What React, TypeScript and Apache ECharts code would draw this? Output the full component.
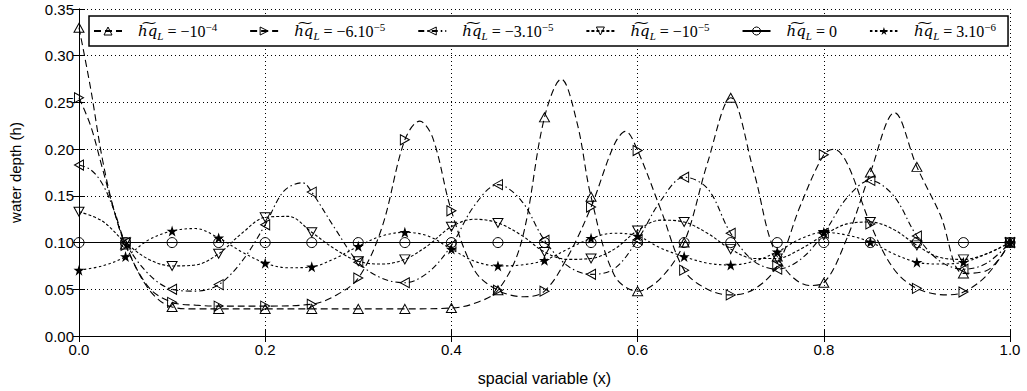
import React, { useEffect, useRef } from 'react';
import * as echarts from 'echarts';

const X_TICKS = { min: 0, max: 1, interval: 0.2 };
const Y_TICKS = { min: 0, max: 0.35, interval: 0.05 };
const X_NAME = 'spacial variable (x)';
const Y_NAME = 'water depth (h)';

const seriesNames = ['hqL=-1e-4', 'hqL=-6e-5', 'hqL=-3e-5', 'hqL=-1e-5', 'hqL=0', 'hqL=3e-6'];
const legendValues = ['−10', '−6.10', '−3.10', '−10', '0', '3.10'];
const legendExponents = ['−4', '−5', '−5', '−5', '', '−6'];

// curve samples: [x, h]
const curveA: [number, number][] = [
  [0, 0.330], [0.0125, 0.265], [0.025, 0.19], [0.0375, 0.135], [0.05, 0.098], [0.075, 0.05],
  [0.1, 0.031], [0.125, 0.029], [0.15, 0.029], [0.2, 0.029], [0.25, 0.029], [0.3, 0.029],
  [0.35, 0.029], [0.4, 0.030], [0.425, 0.035], [0.45, 0.049], [0.475, 0.10], [0.5, 0.234],
  [0.518, 0.275], [0.535, 0.228], [0.55, 0.149], [0.575, 0.065], [0.6, 0.048], [0.625, 0.062],
  [0.65, 0.10], [0.675, 0.185], [0.7, 0.255], [0.725, 0.175], [0.75, 0.085], [0.785, 0.054],
  [0.8, 0.057], [0.825, 0.105], [0.85, 0.175], [0.876, 0.239], [0.9, 0.181], [0.925, 0.13],
  [0.95, 0.067], [0.975, 0.07], [1, 0.10],
];
const curveB: [number, number][] = [
  [0, 0.255], [0.0125, 0.225], [0.025, 0.18], [0.0375, 0.135], [0.05, 0.097], [0.075, 0.052],
  [0.1, 0.036], [0.125, 0.033], [0.15, 0.032], [0.2, 0.032], [0.25, 0.034], [0.275, 0.043],
  [0.3, 0.062], [0.325, 0.115], [0.35, 0.21], [0.366, 0.23], [0.38, 0.212], [0.4, 0.134],
  [0.425, 0.07], [0.45, 0.049], [0.478, 0.042], [0.5, 0.048], [0.525, 0.085], [0.55, 0.138],
  [0.575, 0.205], [0.587, 0.219], [0.6, 0.1985], [0.625, 0.135], [0.65, 0.0705], [0.675, 0.05],
  [0.7, 0.044], [0.725, 0.05], [0.75, 0.075], [0.775, 0.14], [0.8, 0.194], [0.811, 0.2],
  [0.825, 0.185], [0.85, 0.12], [0.875, 0.072], [0.9, 0.051], [0.932, 0.044], [0.95, 0.047],
  [0.975, 0.065], [1, 0.10],
];
const curveC: [number, number][] = [
  [0, 0.183], [0.0125, 0.178], [0.025, 0.163], [0.0375, 0.135], [0.05, 0.10], [0.075, 0.066],
  [0.1, 0.05], [0.125, 0.048], [0.15, 0.055], [0.175, 0.08], [0.2, 0.119], [0.22, 0.155],
  [0.24, 0.164], [0.25, 0.154], [0.275, 0.115], [0.3, 0.079], [0.325, 0.062], [0.35, 0.057],
  [0.375, 0.068], [0.4, 0.097], [0.425, 0.14], [0.45, 0.162], [0.475, 0.145], [0.5, 0.1025],
  [0.525, 0.075], [0.55, 0.066], [0.575, 0.072], [0.6, 0.103], [0.625, 0.145], [0.65, 0.17],
  [0.675, 0.158], [0.7, 0.11], [0.725, 0.08], [0.75, 0.0715], [0.775, 0.082], [0.8, 0.11],
  [0.825, 0.148], [0.85, 0.1665], [0.875, 0.15], [0.9, 0.107], [0.925, 0.08], [0.95, 0.0715],
  [0.975, 0.078], [1, 0.10],
];
const curveD: [number, number][] = [
  [0, 0.133], [0.025, 0.123], [0.05, 0.10], [0.075, 0.082], [0.1, 0.075], [0.125, 0.076],
  [0.15, 0.088], [0.175, 0.11], [0.2, 0.127], [0.225, 0.128], [0.25, 0.111], [0.275, 0.093],
  [0.3, 0.08], [0.325, 0.077], [0.35, 0.082], [0.375, 0.097], [0.4, 0.117], [0.425, 0.125],
  [0.45, 0.121], [0.475, 0.108], [0.5, 0.09], [0.525, 0.082], [0.55, 0.083], [0.575, 0.093],
  [0.6, 0.113], [0.625, 0.124], [0.65, 0.122], [0.675, 0.11], [0.7, 0.093], [0.725, 0.083],
  [0.75, 0.083], [0.775, 0.093], [0.8, 0.108], [0.825, 0.12], [0.85, 0.122], [0.875, 0.114],
  [0.9, 0.097], [0.925, 0.084], [0.95, 0.082], [0.975, 0.088], [1, 0.10],
];
const curveE: [number, number][] = [
  [0, 0.1], [0.05, 0.1], [0.1, 0.1], [0.15, 0.1], [0.2, 0.1], [0.25, 0.1], [0.3, 0.1],
  [0.35, 0.1], [0.4, 0.1], [0.45, 0.1], [0.5, 0.1], [0.55, 0.1], [0.6, 0.1], [0.65, 0.1],
  [0.7, 0.1], [0.75, 0.1], [0.8, 0.1], [0.85, 0.1], [0.9, 0.1], [0.95, 0.1], [1, 0.1],
];
const curveF: [number, number][] = [
  [0, 0.0705], [0.025, 0.075], [0.05, 0.085], [0.075, 0.103], [0.1, 0.1124], [0.125, 0.115],
  [0.15, 0.105], [0.175, 0.09], [0.2, 0.078], [0.225, 0.073], [0.25, 0.074], [0.275, 0.083],
  [0.3, 0.096], [0.325, 0.107], [0.35, 0.111], [0.375, 0.107], [0.4, 0.093], [0.425, 0.08],
  [0.45, 0.075], [0.475, 0.076], [0.5, 0.081], [0.525, 0.093], [0.55, 0.1045], [0.575, 0.11],
  [0.6, 0.107], [0.625, 0.094], [0.65, 0.085], [0.675, 0.078], [0.7, 0.076], [0.725, 0.08],
  [0.75, 0.09], [0.775, 0.104], [0.8, 0.111], [0.825, 0.108], [0.85, 0.1006], [0.875, 0.088],
  [0.9, 0.079], [0.925, 0.077], [0.95, 0.079], [0.975, 0.088], [1, 0.10],
];

const curves = [curveA, curveB, curveC, curveD, curveE, curveF];

const SYM_UP = 'path://M5,0 L10,9 L0,9 Z';
const SYM_RIGHT = 'path://M0,0 L9,5 L0,10 Z';
const SYM_LEFT = 'path://M9,0 L0,5 L9,10 Z';
const SYM_DOWN = 'path://M0,0 L10,0 L5,9 Z';
const SYM_STAR =
  'path://M50,0 L61.8,36.2 L100,36.2 L69.1,58.6 L80.9,95.1 L50,72.7 L19.1,95.1 L30.9,58.6 L0,36.2 L38.2,36.2 Z';

const styles = [
  { symbol: SYM_UP, size: [10, 9], dash: [7, 4], fill: false },
  { symbol: SYM_RIGHT, size: [9, 10], dash: [7, 4], fill: false },
  { symbol: SYM_LEFT, size: [9, 10], dash: [6, 3, 1.5, 3], fill: false },
  { symbol: SYM_DOWN, size: [10, 9], dash: [3, 2], fill: false },
  { symbol: 'circle', size: 10, dash: 'solid', fill: false },
  { symbol: SYM_STAR, size: 11, dash: [2.5, 2.5], fill: true },
];

function isMarker(x: number) {
  const k = x * 20;
  return Math.abs(k - Math.round(k)) < 1e-6;
}

function markerStyle(fill: boolean) {
  return {
    color: fill ? '#000' : 'rgba(255,255,255,0)',
    borderColor: '#000',
    borderWidth: fill ? 0 : 1,
  };
}

export default function App() {
  const ref = useRef<HTMLDivElement>(null);
  useEffect(() => {
    document.body.style.margin = '0';
    if (!ref.current) return;
    const chart = echarts.init(ref.current, undefined, { renderer: 'svg' });
    const axisFont = { fontFamily: 'Liberation Sans', fontSize: 15, color: '#000' };
    const serif = 'Liberation Serif';
    const option: any = {
      animation: false,
      grid: { left: 73, right: 17, top: 9, bottom: 54 },
      legend: {
        left: 89,
        top: 16,
        padding: [5, 12, 5, 4],
        itemGap: 32,
        itemWidth: 28,
        itemHeight: 10,
        backgroundColor: '#fff',
        borderColor: '#000',
        borderWidth: 1.5,
        data: seriesNames.map((name, i) => ({
          name,
          itemStyle: markerStyle(styles[i].fill),
        })),
        formatter: (name: string) => {
          const i = seriesNames.indexOf(name);
          const exp = legendExponents[i] ? `{p|${legendExponents[i]}}` : '';
          return `{v|h\u0360q}{s|L}{n| = ${legendValues[i]}}${exp}`;
        },
        textStyle: {
          color: '#000',
          rich: {
            v: { fontFamily: 'DejaVu Serif', fontStyle: 'italic', fontSize: 15, lineHeight: 20, padding: [0, 0, 0, 11], color: '#000' },
            s: { fontFamily: serif, fontStyle: 'italic', fontSize: 11, lineHeight: 18, verticalAlign: 'bottom', color: '#000' },
            n: { fontFamily: serif, fontSize: 16, lineHeight: 18, color: '#000' },
            p: { fontFamily: serif, fontSize: 11, lineHeight: 18, verticalAlign: 'top', color: '#000' },
          },
        },
      },
      xAxis: [
        {
          type: 'value',
          ...X_TICKS,
          position: 'bottom',
          name: X_NAME,
          nameLocation: 'middle',
          nameGap: 34,
          nameTextStyle: { ...axisFont, fontSize: 16 },
          axisLine: { show: true, lineStyle: { color: '#000', width: 1 } },
          axisTick: { show: true, inside: true, length: 6, lineStyle: { color: '#000' } },
          axisLabel: { ...axisFont, margin: 6, formatter: (v: number) => v.toFixed(1) },
          splitLine: { show: true, lineStyle: { color: '#000', type: [1, 3], width: 1 } },
        },
        {
          type: 'value',
          ...X_TICKS,
          position: 'top',
          axisLine: { show: true, lineStyle: { color: '#000', width: 1 } },
          axisTick: { show: true, inside: true, length: 6, lineStyle: { color: '#000' } },
          axisLabel: { show: false },
          splitLine: { show: false },
        },
      ],
      yAxis: [
        {
          type: 'value',
          ...Y_TICKS,
          position: 'left',
          name: Y_NAME,
          nameLocation: 'middle',
          nameGap: 56,
          nameTextStyle: { ...axisFont, fontSize: 15 },
          axisLine: { show: true, lineStyle: { color: '#000', width: 1 } },
          axisTick: { show: true, inside: true, length: 6, lineStyle: { color: '#000' } },
          axisLabel: { ...axisFont, margin: 5, formatter: (v: number) => v.toFixed(2) },
          splitLine: { show: true, lineStyle: { color: '#000', type: [1, 3], width: 1 } },
        },
        {
          type: 'value',
          ...Y_TICKS,
          position: 'right',
          axisLine: { show: true, lineStyle: { color: '#000', width: 1 } },
          axisTick: { show: true, inside: true, length: 6, lineStyle: { color: '#000' } },
          axisLabel: { show: false },
          splitLine: { show: false },
        },
      ],
      series: curves.map((curve, i) => {
        const st = styles[i];
        return {
          name: seriesNames[i],
          type: 'line',
          xAxisIndex: 0,
          yAxisIndex: 0,
          smooth: i === 4 ? false : 0.35,
          symbol: st.symbol,
          symbolSize: st.size,
          showSymbol: true,
          showAllSymbol: true,
          emphasis: { disabled: true },
          lineStyle: { color: '#000', width: 1.1, type: st.dash },
          itemStyle: markerStyle(st.fill),
          data: curve.map(([x, y]) => (isMarker(x) ? [x, y] : { value: [x, y], symbol: 'none' })),
          z: 3,
        };
      }),
    };
    chart.setOption(option);
    return () => chart.dispose();
  }, []);
  return <div ref={ref} style={{ width: 1027, height: 391 }} />;
}
